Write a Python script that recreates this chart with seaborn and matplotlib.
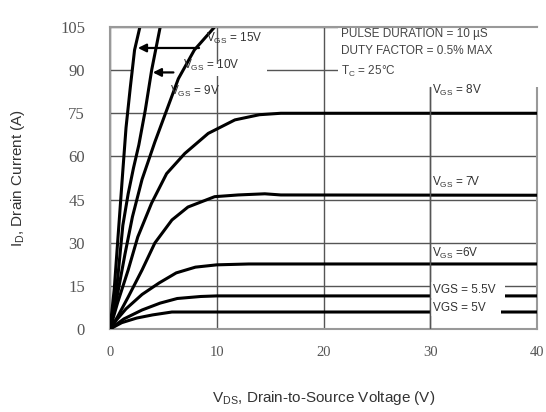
import matplotlib
matplotlib.use("Agg")
import numpy as np
import pandas as pd
import seaborn as sns
import matplotlib.pyplot as plt
from matplotlib.patches import Rectangle

# Output characteristics: (V_DS, I_D) per V_GS curve
vds_15 = [0, 0.4, 0.75, 1.2, 1.5, 1.9, 2.3, 2.8]
id_15 = [0, 14, 32, 55, 70, 84, 97, 105]

vds_10 = [0, 0.65, 1.2, 1.7, 2.2, 2.7, 3.3, 3.9, 4.7]
id_10 = [0, 15, 36, 47, 56, 64, 76, 90, 105]

vds_9 = [0, 0.7, 1.4, 2.1, 3.0, 4.2, 5.4, 6.4, 7.9, 9.8]
id_9 = [0, 12, 26, 39, 52, 65, 77, 87, 97, 105]

vds_8 = [0, 0.7, 1.7, 2.6, 3.9, 5.3, 7.0, 9.2, 11.7, 14, 16, 40]
id_8 = [0, 9, 20.5, 32, 43.8, 54, 61, 68, 72.7, 74.5, 75, 75]

vds_7 = [0, 0.7, 1.7, 3.0, 4.2, 5.8, 7.3, 9.8, 12, 14.5, 16, 40]
id_7 = [0, 4.2, 11.1, 20.5, 29.9, 37.9, 42.4, 46, 46.6, 47, 46.6, 46.5]

vds_6 = [0, 0.6, 1.5, 3.0, 4.6, 6.2, 8, 10, 13, 40]
id_6 = [0, 3.1, 7, 12, 16, 19.5, 21.5, 22.3, 22.6, 22.6]

vds_55 = [0, 1.3, 3.0, 4.7, 6.3, 8.5, 10, 40]
id_55 = [0, 3.5, 6.6, 9, 10.6, 11.3, 11.5, 11.5]

vds_5 = [0, 1.1, 2.5, 4.0, 5.8, 40]
id_5 = [0, 2.2, 3.8, 4.9, 5.9, 5.9]

curves = [("15V", vds_15, id_15), ("10V", vds_10, id_10), ("9V", vds_9, id_9),
          ("8V", vds_8, id_8), ("7V", vds_7, id_7), ("6V", vds_6, id_6),
          ("5.5V", vds_55, id_55), ("5V", vds_5, id_5)]

x_ticks = [0, 10, 20, 30, 40]
y_ticks = [0, 15, 30, 45, 60, 75, 90, 105]

sns.set_style("white")
plt.rcParams['font.family'] = ['Liberation Sans', 'DejaVu Sans']
plt.rcParams['mathtext.fontset'] = 'custom'
plt.rcParams['mathtext.rm'] = 'Liberation Sans'
plt.rcParams['mathtext.it'] = 'Liberation Sans'

fig = plt.figure(figsize=(5.46, 4.12), dpi=100)
ax = fig.add_axes([0.2015, 0.2015, 0.782, 0.733])

for name, vx, iy in curves:
    df = pd.DataFrame({'vds': vx, 'id': iy})
    sns.lineplot(data=df, x='vds', y='id', color='black', lw=2.2,
                 sort=False, estimator=None, ax=ax, zorder=3)

ax.set_xlim(0, 40)
ax.set_ylim(0, 105)
ax.set_xticks(x_ticks)
ax.set_yticks(y_ticks)
ax.grid(True, color='#555555', lw=1.0)
ax.set_axisbelow(True)
ax.tick_params(length=0)
ax.tick_params(axis='y', pad=18, labelsize=12, labelcolor='#555555')
ax.tick_params(axis='x', pad=12, labelsize=10.5, labelcolor='#555555')
for lab in ax.get_xticklabels() + ax.get_yticklabels():
    lab.set_family('Liberation Serif')
for sp in ax.spines.values():
    sp.set_color('#999999')
    sp.set_linewidth(1.5)
ax.spines['top'].set_zorder(6)

ax.set_xlabel(r'$\mathregular{V_{DS}}$, Drain-to-Source Voltage (V)', fontsize=11,
              color='#333333', labelpad=22)
ax.set_ylabel(r'$\mathregular{I_{D}}$, Drain Current (A)', fontsize=11,
              color='#333333', labelpad=24)

# white patches hiding grid behind the notes and arrow labels
ax.add_patch(Rectangle((21.4, 84), 20, 21, facecolor='white', edgecolor='none',
                       zorder=2.7, clip_on=False))
ax.add_patch(Rectangle((2.1, 88), 12.6, 4, facecolor='white', edgecolor='none', zorder=1.5))

note_kw = dict(fontsize=8.5, color='#444444', va='center', ha='left', zorder=7)
ax.text(21.6, 102.6, 'PULSE DURATION = 10 µS', **note_kw)
ax.text(21.6, 96.7, 'DUTY FACTOR = 0.5% MAX', **note_kw)
ax.text(21.6, 89.6, r'$\mathregular{T_{C}}$ = 25°C', **note_kw)

lab_kw = dict(fontsize=8.5, color='#333333', va='center', ha='left')
ax.text(9.0, 101.0, r'$\mathregular{V_{GS}}$ = 15V', zorder=4, **lab_kw)
ax.text(6.8, 91.6, r'$\mathregular{V_{GS}}$ = 10V', zorder=4, **lab_kw)
ax.text(5.6, 82.6, r'$\mathregular{V_{GS}}$ = 9V', zorder=4, **lab_kw)
ax.annotate('', xy=(2.35, 97.7), xytext=(8.6, 97.7),
            arrowprops=dict(arrowstyle='-|>', color='black', lw=1.6, mutation_scale=12),
            zorder=4)
ax.annotate('', xy=(3.75, 89.2), xytext=(6.2, 89.2),
            arrowprops=dict(arrowstyle='-|>', color='black', lw=1.6, mutation_scale=12),
            zorder=4)

box = dict(facecolor='white', edgecolor='none', pad=1.5)
ax.text(30.2, 83.0, r'$\mathregular{V_{GS}}$ = 8V', zorder=5, **lab_kw)
ax.text(30.2, 51.0, r'$\mathregular{V_{GS}}$ = 7V', zorder=5, **lab_kw)
ax.text(30.2, 26.4, r'$\mathregular{V_{GS}}$ =6V', zorder=5, **lab_kw)
ax.text(30.3, 13.6, 'VGS = 5.5V  ', zorder=5, bbox=box, **lab_kw)
ax.text(30.3, 7.2, 'VGS = 5V    ', zorder=5, bbox=box, **lab_kw)
ax.axvline(30, color='#555555', lw=1.0, ymax=0.8, zorder=5.5)

fig.savefig('out.png', dpi=100)
